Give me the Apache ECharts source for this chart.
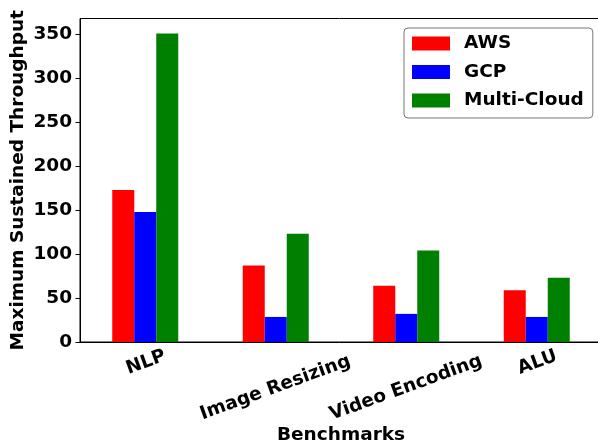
<!DOCTYPE html>
<html>
<head>
<meta charset="utf-8">
<script src="https://cdn.jsdelivr.net/npm/echarts@6/dist/echarts.min.js"></script>
<style>html,body{margin:0;padding:0;background:#fff}#c{width:598px;height:446px}</style>
</head>
<body>
<div id="c"></div>
<script>
const categories = ["NLP", "Image Resizing", "Video Encoding", "ALU"];
const awsValues = [173, 87, 64, 59];
const gcpValues = [148, 28.5, 32, 28.5];
const multiCloudValues = [351, 123, 104, 73];
const seriesNames = ["AWS", "GCP", "Multi-Cloud"];
const yTicks = [0, 50, 100, 150, 200, 250, 300, 350];

const FONT = "DejaVu Sans";
const FS = 18.5;
// Long rotated labels sit lower (matplotlib centres the rotated bounding box under the tick)
const longLabel = [false, true, true, false];
const catData = categories.map((c, i) => ({
  value: c,
  textStyle: { align: 'center', verticalAlign: 'middle', lineHeight: longLabel[i] ? 69 : 22 }
}));

const chart = echarts.init(document.getElementById('c'), null, { renderer: 'canvas' });
chart.setOption({
  animation: false,
  backgroundColor: '#fff',
  textStyle: { fontFamily: FONT, fontWeight: 'bold', color: '#000' },
  grid: { left: 80, top: 18.5, width: 522, height: 323.5, show: true, borderColor: '#000', borderWidth: 1,
    containLabel: false, outerBoundsMode: 'none' },
  legend: {
    orient: 'vertical', left: 404, top: 28, width: 189,
    padding: [6, 9, 8, 8], itemGap: 9.5, itemWidth: 38, itemHeight: 14, icon: 'rect',
    borderColor: '#777', borderWidth: 1, borderRadius: 4, backgroundColor: '#fff',
    textStyle: { fontFamily: FONT, fontWeight: 'bold', fontSize: FS, color: '#000', lineHeight: 18, padding: [0, 0, 0, 9] },
    data: seriesNames
  },
  xAxis: {
    type: 'category', data: catData,
    name: 'Benchmarks', nameLocation: 'middle', nameGap: 84, nameMoveOverlap: false,
    nameTextStyle: { fontFamily: FONT, fontWeight: 'bold', fontSize: FS, color: '#000' },
    axisLine: { lineStyle: { color: '#000', width: 1 } },
    axisTick: { alignWithLabel: true, length: 4.5, lineStyle: { color: '#666' } },
    axisLabel: { interval: 0, rotate: 20, align: 'center', verticalAlign: 'middle', margin: 9,
      hideOverlap: false,
      formatter: (v, i) => '\n' + v + (longLabel[i] ? '    ' : ' '),
      fontFamily: FONT, fontWeight: 'bold', fontSize: FS, color: '#000' },
    splitLine: { show: false }
  },
  yAxis: {
    type: 'value', min: 0, max: 368, interval: 50,
    name: 'Maximum Sustained Throughput', nameLocation: 'middle', nameGap: 52, nameMoveOverlap: false,
    nameTextStyle: { fontFamily: FONT, fontWeight: 'bold', fontSize: FS, color: '#000' },
    axisLine: { show: true, lineStyle: { color: '#000', width: 1 } },
    axisTick: { show: true, length: 4.5, lineStyle: { color: '#000' } },
    axisLabel: { margin: 8, fontFamily: FONT, fontWeight: 'bold', fontSize: FS, color: '#000',
      showMaxLabel: false,
      formatter: v => (yTicks.indexOf(v) >= 0 ? String(v) : '') },
    splitLine: { show: false }
  },
  series: [
    { name: seriesNames[0], type: 'bar', data: awsValues, barWidth: 22, barGap: '0%', itemStyle: { color: '#ff0000' } },
    { name: seriesNames[1], type: 'bar', data: gcpValues, barWidth: 22, barGap: '0%', itemStyle: { color: '#0000ff' } },
    { name: seriesNames[2], type: 'bar', data: multiCloudValues, barWidth: 22, barGap: '0%', itemStyle: { color: '#008000' } }
  ]
});
</script>
</body>
</html>
